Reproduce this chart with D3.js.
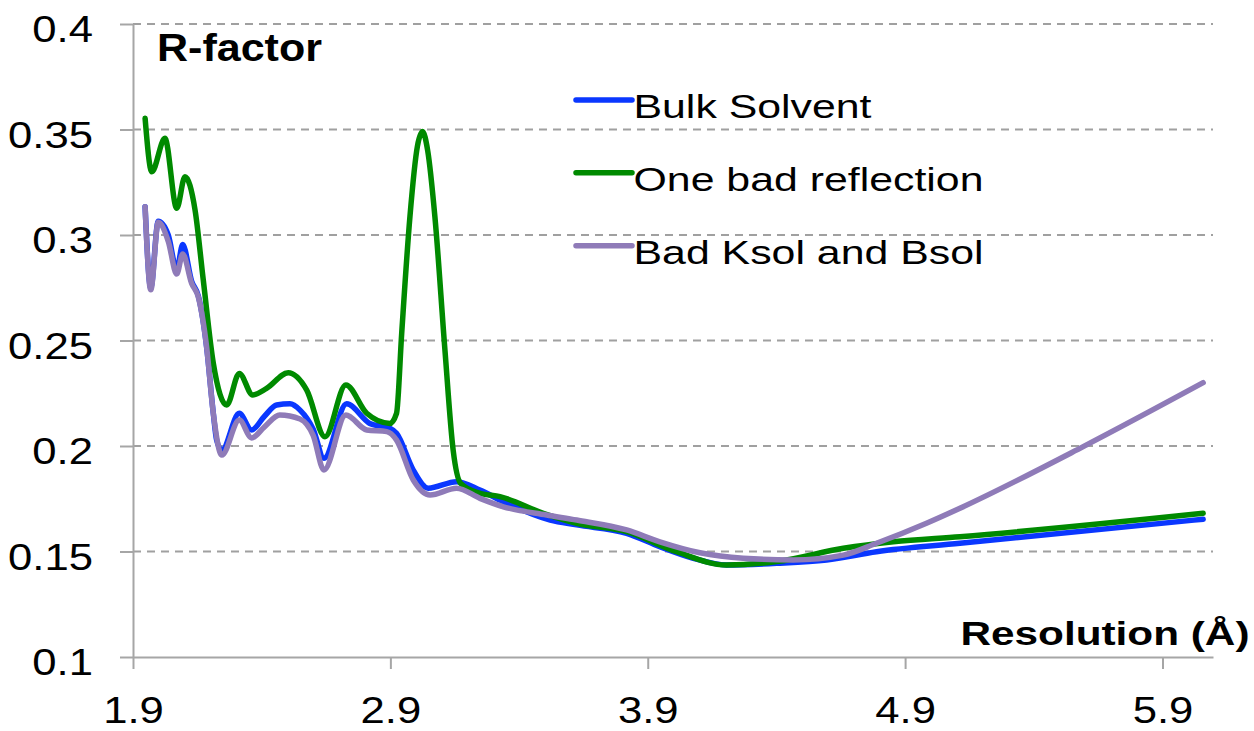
<!DOCTYPE html>
<html>
<head>
<meta charset="utf-8">
<script src="https://cdn.jsdelivr.net/npm/d3@7"></script>
<style>
  html, body { margin: 0; padding: 0; background: #ffffff; }
  svg { display: block; font-family: "Liberation Sans", Arial, sans-serif; }
</style>
</head>
<body>
<script>
// ---- Data ----
const seriesNames = ["Bulk Solvent", "One bad reflection", "Bad Ksol and Bsol"];
const seriesColors = ["#0a37ff", "#008a00", "#8f7bb8"];

const bulkX = [1.947, 1.969, 1.998, 2.037, 2.070, 2.093, 2.128, 2.154, 2.186, 2.212, 2.225, 2.245, 2.313, 2.361, 2.410, 2.458, 2.510, 2.549, 2.600, 2.642, 2.730, 2.820, 2.898, 2.924, 2.989, 3.047, 3.157, 3.248, 3.339, 3.521, 3.624, 3.818, 3.947, 4.077, 4.206, 4.401, 4.595, 4.789, 5.113, 6.058];
const bulkY = [0.3134, 0.2750, 0.3065, 0.3000, 0.2835, 0.2955, 0.2780, 0.2710, 0.2470, 0.2155, 0.2028, 0.1980, 0.2155, 0.2076, 0.2140, 0.2194, 0.2200, 0.2170, 0.2080, 0.1942, 0.2200, 0.2107, 0.2084, 0.2060, 0.1886, 0.1800, 0.1831, 0.1791, 0.1736, 0.1649, 0.1626, 0.1586, 0.1523, 0.1468, 0.1436, 0.1444, 0.1460, 0.1499, 0.1539, 0.1653];

const badReflX = [1.947, 1.973, 2.024, 2.070, 2.102, 2.141, 2.173, 2.212, 2.264, 2.313, 2.365, 2.419, 2.503, 2.575, 2.646, 2.727, 2.808, 2.898, 2.924, 2.944, 2.976, 3.005, 3.025, 3.045, 3.073, 3.112, 3.144, 3.173, 3.248, 3.326, 3.494, 3.624, 3.818, 4.012, 4.206, 4.401, 4.660, 4.854, 5.113, 6.058];
const badReflY = [0.3553, 0.3300, 0.3458, 0.3127, 0.3276, 0.3119, 0.2787, 0.2393, 0.2194, 0.2344, 0.2242, 0.2273, 0.2347, 0.2265, 0.2044, 0.2289, 0.2155, 0.2107, 0.2155, 0.2534, 0.3087, 0.3420, 0.3490, 0.3400, 0.3087, 0.2455, 0.1980, 0.1823, 0.1776, 0.1760, 0.1681, 0.1634, 0.1594, 0.1499, 0.1436, 0.1452, 0.1515, 0.1546, 0.1570, 0.1681];

const badKsolX = [1.947, 1.969, 1.998, 2.037, 2.070, 2.093, 2.128, 2.154, 2.186, 2.212, 2.245, 2.313, 2.361, 2.410, 2.470, 2.549, 2.600, 2.642, 2.727, 2.808, 2.886, 2.924, 2.989, 3.054, 3.157, 3.248, 3.339, 3.507, 3.624, 3.818, 3.947, 4.103, 4.271, 4.465, 4.660, 4.789, 4.983, 5.113, 5.592, 6.058];
const badKsolY = [0.3134, 0.2740, 0.3060, 0.2970, 0.2815, 0.2910, 0.2770, 0.2705, 0.2470, 0.2155, 0.1957, 0.2123, 0.2038, 0.2090, 0.2147, 0.2128, 0.2050, 0.1886, 0.2147, 0.2076, 0.2068, 0.2028, 0.1839, 0.1768, 0.1800, 0.1752, 0.1712, 0.1673, 0.1649, 0.1602, 0.1546, 0.1494, 0.1468, 0.1460, 0.1483, 0.1539, 0.1634, 0.1705, 0.1997, 0.2300];

const xTicks = [1.9, 2.9, 3.9, 4.9, 5.9];
const yTicks = [0.1, 0.15, 0.2, 0.25, 0.3, 0.35, 0.4];
const xTickLabels = ["1.9", "2.9", "3.9", "4.9", "5.9"];
const yTickLabels = ["0.1", "0.15", "0.2", "0.25", "0.3", "0.35", "0.4"];
const yTitle = "R-factor";
const xTitle = "Resolution (Å)";

// ---- Layout ----
const W = 1254, H = 731;
const plotL = 133, plotR = 1213, plotT = 24, plotB = 657;

const x = d3.scaleLinear().domain([1.9, 6.0963]).range([plotL, plotR]);
const y = d3.scaleLinear().domain([0.1, 0.4]).range([plotB, plotT]);

const svg = d3.select("body").append("svg").attr("width", W).attr("height", H);

const axisColor = "#a6a6a6";

// gridlines (dashed)
svg.append("g").selectAll("line")
  .data(yTicks.filter(v => v > 0.1))
  .join("line")
  .attr("x1", plotL).attr("x2", plotR)
  .attr("y1", d => y(d)).attr("y2", d => y(d))
  .attr("stroke", "#a0a0a0")
  .attr("stroke-width", 1.8)
  .attr("stroke-dasharray", "8,6");

// Y axis
const yAxis = svg.append("g")
  .attr("transform", `translate(${plotL},0)`)
  .call(d3.axisLeft(y).tickValues(yTicks).tickSize(13).tickSizeOuter(0)
    .tickFormat((d, i) => yTickLabels[i]));
yAxis.select(".domain").attr("stroke", axisColor).attr("stroke-width", 2);
yAxis.selectAll(".tick line").attr("stroke", axisColor).attr("stroke-width", 2);
yAxis.selectAll(".tick text")
  .attr("x", 0).attr("dy", 0)
  .attr("transform", "translate(-40,17.5) scale(1.18,1)")
  .attr("text-anchor", "end")
  .attr("fill", "#000")
  .style("font-size", "37px")
  .style("font-family", "'Liberation Sans', Arial, sans-serif");

// X axis
const xAxis = svg.append("g")
  .attr("transform", `translate(0,${plotB})`)
  .call(d3.axisBottom(x).tickValues(xTicks).tickSize(12).tickSizeOuter(0)
    .tickFormat((d, i) => xTickLabels[i]));
xAxis.select(".domain").attr("stroke", axisColor).attr("stroke-width", 2);
xAxis.selectAll(".tick line").attr("stroke", axisColor).attr("stroke-width", 2);
xAxis.selectAll(".tick text")
  .attr("y", 0).attr("dy", 0)
  .attr("transform", "translate(0,66) scale(1.18,1)")
  .attr("text-anchor", "middle")
  .attr("fill", "#000")
  .style("font-size", "37px")
  .style("font-family", "'Liberation Sans', Arial, sans-serif");

// Series lines
const series = [
  { name: seriesNames[0], xs: bulkX, ys: bulkY, color: seriesColors[0] },
  { name: seriesNames[1], xs: badReflX, ys: badReflY, color: seriesColors[1] },
  { name: seriesNames[2], xs: badKsolX, ys: badKsolY, color: seriesColors[2] }
];

const line = d3.line()
  .x(d => x(d[0]))
  .y(d => y(d[1]))
  .curve(d3.curveMonotoneX);

svg.append("g").selectAll("path")
  .data(series)
  .join("path")
  .attr("d", s => line(s.xs.map((v, i) => [v, s.ys[i]])))
  .attr("fill", "none")
  .attr("stroke", s => s.color)
  .attr("stroke-width", 5.5)
  .attr("stroke-linecap", "round")
  .attr("stroke-linejoin", "round");

// Legend
const legY = [100, 172.7, 245.7];
const legLen = [238, 350, 350];
const leg = svg.append("g");
series.forEach((s, i) => {
  leg.append("line")
    .attr("x1", 576).attr("x2", 632)
    .attr("y1", legY[i]).attr("y2", legY[i])
    .attr("stroke", s.color).attr("stroke-width", 5.5)
    .attr("stroke-linecap", "round");
  leg.append("text")
    .attr("x", 633.5).attr("y", legY[i] + 18)
    .attr("textLength", legLen[i])
    .attr("lengthAdjust", "spacingAndGlyphs")
    .style("font-size", "33px")
    .attr("fill", "#000")
    .text(s.name);
});

// Axis titles
svg.append("text")
  .attr("x", 157).attr("y", 61)
  .attr("textLength", 165).attr("lengthAdjust", "spacingAndGlyphs")
  .style("font-size", "39px").style("font-weight", "bold")
  .attr("fill", "#000")
  .text(yTitle);

svg.append("text")
  .attr("x", 960.5).attr("y", 645)
  .attr("textLength", 289).attr("lengthAdjust", "spacingAndGlyphs")
  .style("font-size", "34px").style("font-weight", "bold")
  .attr("fill", "#000")
  .text(xTitle);
</script>
</body>
</html>
